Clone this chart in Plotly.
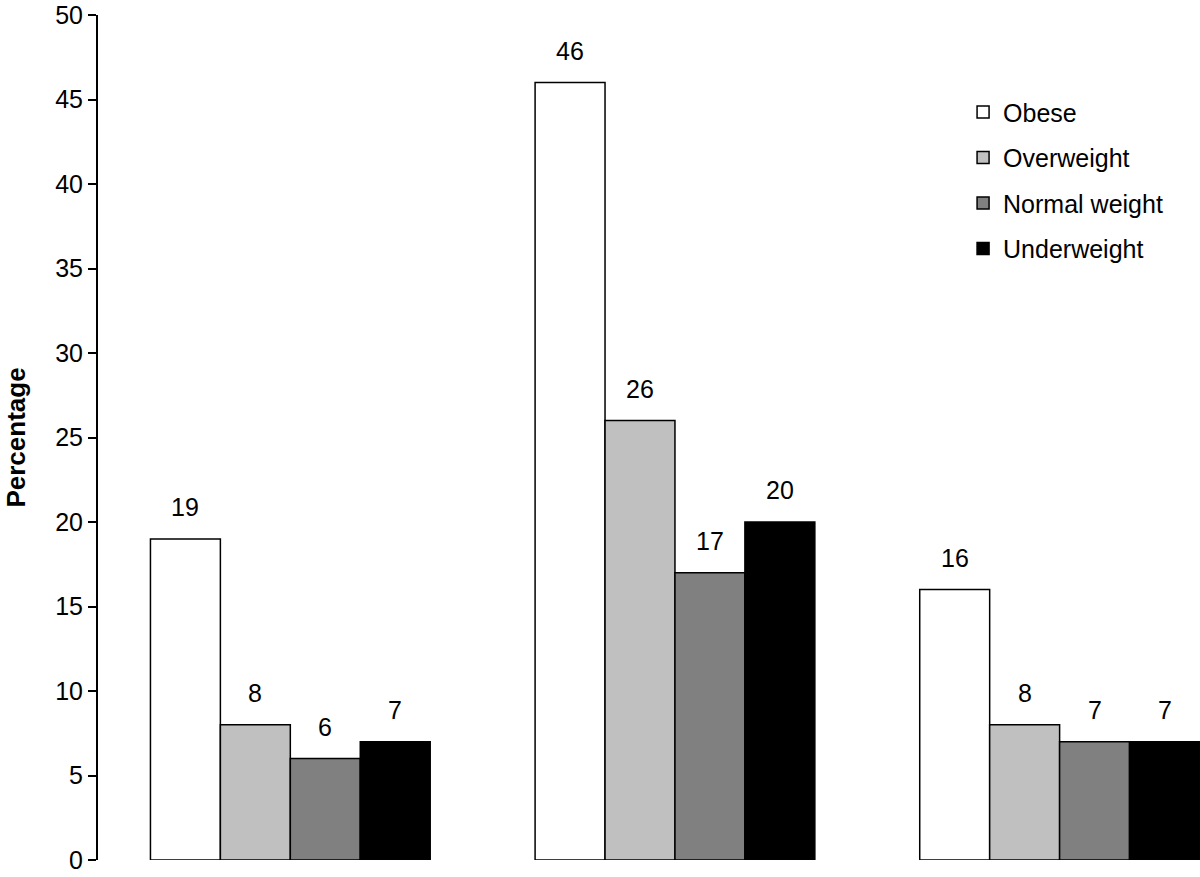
import plotly.graph_objects as go

# three groups, no x labels in the original
grupos = [0, 1, 2]
categorias = ["Obese", "Overweight", "Normal weight", "Underweight"]
obese = [19, 46, 16]
overweight = [8, 26, 8]
normal = [6, 17, 7]
underweight = [7, 20, 7]
ticks_y = [0, 5, 10, 15, 20, 25, 30, 35, 40, 45, 50]

colores = ["#ffffff", "#c0c0c0", "#808080", "#000000"]
series = [obese, overweight, normal, underweight]

fig = go.Figure()
for i, (nombre, vals) in enumerate(zip(categorias, series)):
    fig.add_trace(go.Bar(
        x=grupos, y=vals, name=nombre,
        marker=dict(color=colores[i], line=dict(color="black", width=1.5)),
        legendgroup=nombre,
        offsetgroup=str(i),
    ))

# etiquetas encima de cada barra
ancho = 0.7273 / 4
for i, vals in enumerate(series):
    for g, v in zip(grupos, vals):
        fig.add_annotation(
            x=g - 0.7273 / 2 + ancho * (i + 0.5), y=v, text=str(v),
            showarrow=False, yanchor="bottom", yshift=16,
            font=dict(size=25, color="black"),
        )

fig.update_layout(
    width=1200, height=877,
    margin=dict(l=98, r=0, t=15, b=17),
    plot_bgcolor="white", paper_bgcolor="white",
    barmode="group", bargap=0.2727, bargroupgap=0,
    font=dict(family="Liberation Sans, Arial, sans-serif", size=25, color="black"),
    showlegend=True,
    legend=dict(x=0.785, y=0.912, xanchor="left", yanchor="top",
                font=dict(size=25), tracegroupgap=10,
                bgcolor="rgba(0,0,0,0)"),
    xaxis=dict(range=[-0.5, 2.365], showticklabels=False, showline=False,
               showgrid=False, zeroline=False, ticks=""),
    yaxis=dict(range=[0, 50], tickvals=ticks_y, showline=True, linecolor="black",
               linewidth=2, ticks="outside", ticklen=8, tickwidth=2,
               tickcolor="black", showgrid=False, zeroline=False,
               tickfont=dict(size=25), ticklabeloverflow="allow",
               title=dict(text="<b>Percentage</b>", font=dict(size=26), standoff=22)),
)

# quitar el margen del body para que la figura empiece en (0,0)
fig.write_html("out.html", config={"displayModeBar": False},
               post_script="document.body.style.margin='0';")
